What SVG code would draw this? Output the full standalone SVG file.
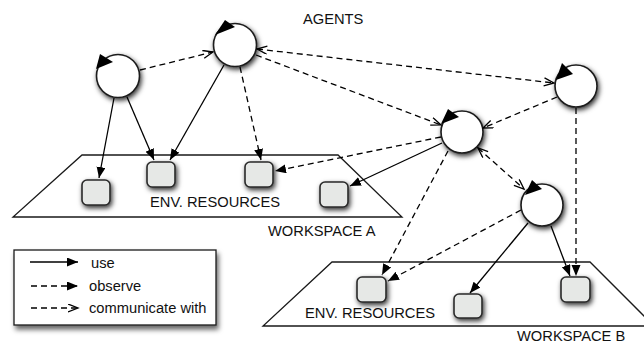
<svg xmlns="http://www.w3.org/2000/svg" width="644" height="345" viewBox="0 0 644 345">
<style>
text{font-family:"Liberation Sans",Arial,sans-serif;font-size:14.7px;fill:#111}
.ws{fill:#fff;stroke:#1a1a1a;stroke-width:1.3}
.res{fill:#e6e8e6;stroke:#2a2a2a;stroke-width:1.6}
.ag{fill:#fff;stroke:#1a1a1a;stroke-width:1.6}
.tri{fill:#000}
.use{fill:none;stroke:#000;stroke-width:1.3;marker-end:url(#fh)}
.obs{fill:none;stroke:#000;stroke-width:1.3;stroke-dasharray:6 4;marker-end:url(#fh)}
.com{fill:none;stroke:#000;stroke-width:1.3;stroke-dasharray:6 4;marker-end:url(#oh)}
.both{marker-start:url(#oh)}
</style>
<defs>
<filter id="sh" x="-50%" y="-50%" width="200%" height="200%">
<feDropShadow dx="1.5" dy="2.5" stdDeviation="2.8" flood-color="#000" flood-opacity="0.8"/>
</filter>
<filter id="shl" x="-20%" y="-20%" width="140%" height="150%">
<feDropShadow dx="2" dy="4" stdDeviation="2.5" flood-color="#000" flood-opacity="0.6"/>
</filter>
<marker id="fh" markerUnits="userSpaceOnUse" markerWidth="12" markerHeight="10" refX="11" refY="4.5" orient="auto-start-reverse" viewBox="0 0 12 10">
<path d="M0,0 L11,4.5 L0,9 z" fill="#000"/>
</marker>
<marker id="oh" markerUnits="userSpaceOnUse" markerWidth="12" markerHeight="10" refX="10.5" refY="4.5" orient="auto-start-reverse" viewBox="0 0 12 10">
<path d="M0.5,0.5 L10.5,4.5 L0.5,8.5" fill="none" stroke="#000" stroke-width="1.3"/>
</marker>
</defs>

<g id="workspace-a">
<polygon class="ws" points="82,155 338,155 402,217 13,217"/>
<text x="150" y="206.5">ENV. RESOURCES</text>
<text x="268" y="236">WORKSPACE A</text>
</g>
<g id="workspace-b">
<polygon class="ws" points="332,262 590,262 654,326 263,326"/>
<text x="305" y="318">ENV. RESOURCES</text>
<text x="517" y="341">WORKSPACE B</text>
</g>

<text id="agents-label" x="303" y="24">AGENTS</text>

<g id="resources">
<g id="r1"><rect class="res" filter="url(#sh)" x="82" y="180" width="28" height="25" rx="5"/></g>
<g id="r2"><rect class="res" filter="url(#sh)" x="147" y="162" width="28" height="25" rx="5"/></g>
<g id="r3"><rect class="res" filter="url(#sh)" x="245" y="162" width="28" height="25" rx="5"/></g>
<g id="r4"><rect class="res" filter="url(#sh)" x="320" y="182" width="28" height="25" rx="5"/></g>
<g id="r5"><rect class="res" filter="url(#sh)" x="357" y="277" width="29" height="25" rx="5"/></g>
<g id="r6"><rect class="res" filter="url(#sh)" x="454" y="294" width="28" height="24" rx="5"/></g>
<g id="r7"><rect class="res" filter="url(#sh)" x="561" y="277" width="29" height="25" rx="5"/></g>
</g>

<g id="agents">
<g id="a1"><circle class="ag" filter="url(#sh)" cx="118" cy="76" r="21.5"/><polygon class="tri" points="100,54 113,62 96,69"/></g>
<g id="a2"><circle class="ag" filter="url(#sh)" cx="235" cy="45" r="21.5"/><polygon class="tri" points="225,20 235,27 215,35"/></g>
<g id="a3"><circle class="ag" filter="url(#sh)" cx="576" cy="86" r="21"/><polygon class="tri" points="562,63 573,74 556,80"/></g>
<g id="a4"><circle class="ag" filter="url(#sh)" cx="462" cy="132" r="21"/><polygon class="tri" points="448,109 459,117 441,124"/></g>
<g id="a5"><circle class="ag" filter="url(#sh)" cx="542" cy="205" r="21"/><polygon class="tri" points="532,180 542,189 525,195"/></g>
</g>

<g id="connectors">
<line class="use" x1="114" y1="98" x2="99" y2="178"/>
<line class="use" x1="127" y1="97" x2="154" y2="160"/>
<line class="use" x1="224" y1="65" x2="170" y2="160"/>
<line class="use" x1="442" y1="143" x2="350" y2="186"/>
<line class="use" x1="528" y1="223" x2="470" y2="293"/>
<line class="use" x1="551" y1="226" x2="570" y2="276"/>
<line class="obs" x1="240" y1="67" x2="261" y2="160"/>
<line class="obs" x1="441" y1="137" x2="275" y2="171"/>
<line class="obs" x1="448" y1="151" x2="382" y2="275"/>
<line class="obs" x1="521" y1="210" x2="388" y2="281"/>
<line class="obs" x1="576" y1="108" x2="576" y2="276"/>
<line class="com" x1="140" y1="70" x2="213" y2="52"/>
<line class="com both" x1="257" y1="49" x2="554" y2="83"/>
<line class="com" x1="256" y1="55" x2="441" y2="125"/>
<line class="com" x1="557" y1="97" x2="483" y2="128"/>
<line class="com both" x1="478" y1="148" x2="524" y2="189"/>
</g>

<g id="legend">
<rect x="14" y="250" width="202" height="75" fill="#fff" stroke="#1a1a1a" stroke-width="1.3" filter="url(#shl)"/>
<line class="use" x1="30" y1="262" x2="78" y2="262"/>
<line class="obs" x1="31" y1="286" x2="78" y2="286"/>
<line class="com" x1="31" y1="308" x2="78" y2="308"/>
<text x="91" y="267.5">use</text>
<text x="89" y="291">observe</text>
<text x="89" y="313">communicate with</text>
</g>
</svg>
